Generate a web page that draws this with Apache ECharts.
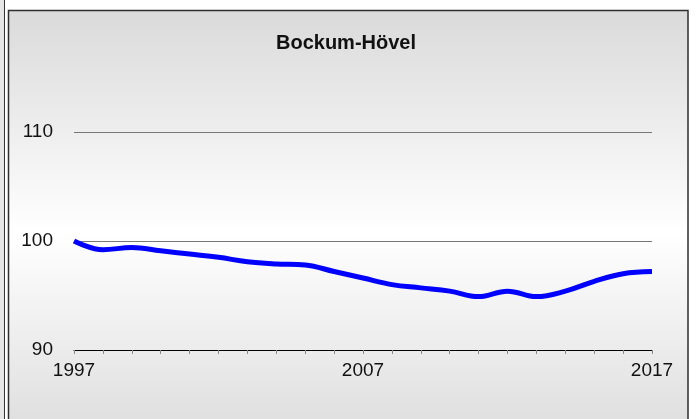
<!DOCTYPE html>
<html>
<head>
<meta charset="utf-8">
<script src="https://cdn.jsdelivr.net/npm/echarts@6/dist/echarts.min.js"></script>
<style>
html,body{margin:0;padding:0;background:#fff;}
#chart{width:696px;height:419px;}
</style>
</head>
<body>
<div id="chart"></div>
<script>
const titleText = 'Bockum-Hövel';
const years = [1997,1998,1999,2000,2001,2002,2003,2004,2005,2006,2007,2008,2009,2010,2011,2012,2013,2014,2015,2016,2017];
const values = [100.0,99.2,99.4,99.1,98.8,98.5,98.1,97.9,97.8,97.2,96.6,96.0,95.7,95.4,94.9,95.4,94.9,95.4,96.3,97.0,97.2];
const yTicks = [90,100,110];
const xLabelYears = [1997,2007,2017];

const chart = echarts.init(document.getElementById('chart'), null, {renderer:'canvas'});
const grad = new echarts.graphic.LinearGradient(0,0,0,1,[
  {offset:0,color:'#dadada'},
  {offset:0.53,color:'#ffffff'},
  {offset:1,color:'#dedede'}
]);
chart.setOption({
  backgroundColor:'#ffffff',
  animation:false,
  graphic:[
    {type:'rect', z:-10, shape:{x:-20,y:-5,width:24.5,height:440}, style:{fill:'#e6e6e6',stroke:'#333',lineWidth:1}},
    {type:'rect', z:-10, shape:{x:8.5,y:10.5,width:679.5,height:420}, style:{fill:grad,stroke:'#2e2e2e',lineWidth:1.5}}
  ],
  title:{
    text:titleText,
    left:271, top:28,
    textStyle:{fontFamily:'Liberation Sans, Arial, sans-serif',fontWeight:'bold',fontSize:20,color:'#111'}
  },
  grid:{left:74,right:44,top:132,bottom:69,containLabel:false},
  xAxis:{
    type:'value', min:years[0], max:years[years.length-1], interval:1,
    axisLine:{show:true,lineStyle:{color:'#000',width:1}},
    axisTick:{show:true,length:4,inside:false,lineStyle:{color:'#888'}},
    splitLine:{show:false},
    axisLabel:{
      margin:11, fontSize:19, color:'#111', fontFamily:'Liberation Sans, Arial, sans-serif',
      formatter:v=> xLabelYears.indexOf(v)>=0 ? String(v) : ''
    }
  },
  yAxis:{
    type:'value', min:yTicks[0], max:yTicks[yTicks.length-1], interval:10,
    axisLine:{show:false}, axisTick:{show:false},
    splitLine:{show:true,lineStyle:{color:'#777',width:1}},
    axisLabel:{margin:21,fontSize:19,color:'#111',fontFamily:'Liberation Sans, Arial, sans-serif',
      formatter:v=> yTicks.indexOf(v)>=0 ? String(v) : ''}
  },
  series:[{
    type:'line',
    data: years.map((y,i)=>[y,values[i]]),
    smooth:0.4,
    symbol:'none',
    lineStyle:{color:'#0000ff',width:5},
    z:5
  }]
});
</script>
</body>
</html>
